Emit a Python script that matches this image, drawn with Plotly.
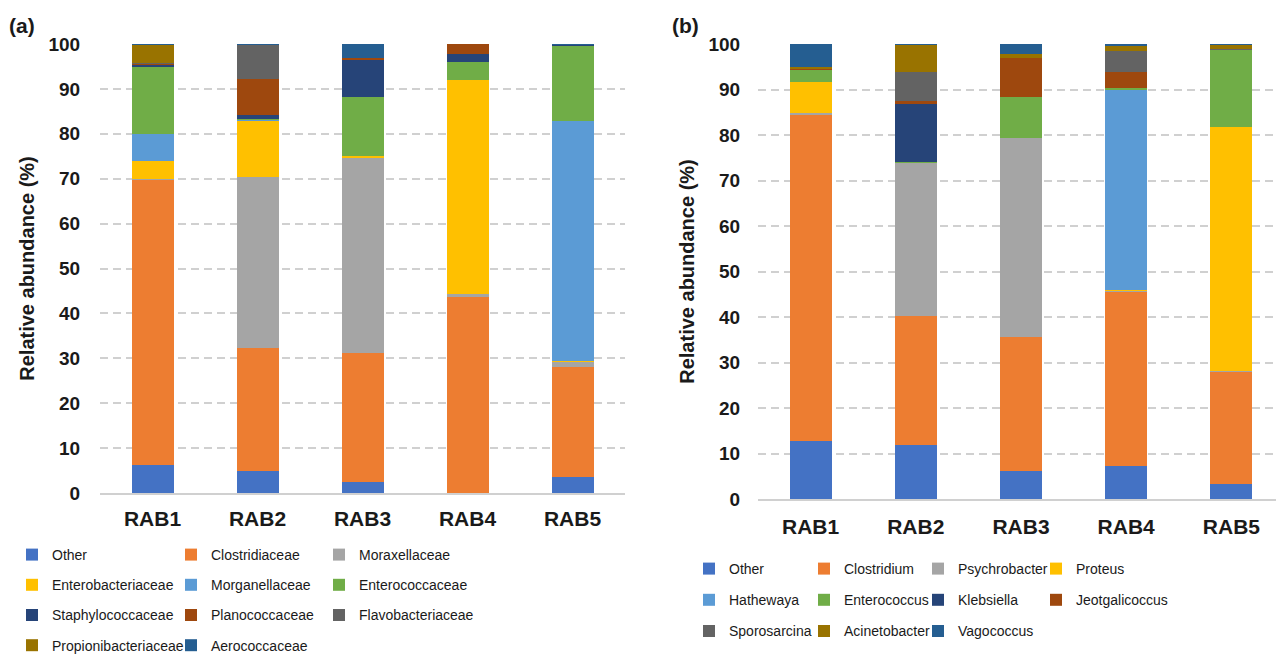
import plotly.graph_objects as go

samples = ["RAB1", "RAB2", "RAB3", "RAB4", "RAB5"]

# Panel (a): families (relative abundance, %)
families = ["Other", "Clostridiaceae", "Moraxellaceae", "Enterobacteriaceae",
            "Morganellaceae", "Enterococcaceae", "Staphylococcaceae",
            "Planococcaceae", "Flavobacteriaceae", "Propionibacteriaceae",
            "Aerococcaceae"]
fam_other = [6.3, 5.0, 2.4, 0.0, 3.5]
fam_clostridiaceae = [63.6, 27.2, 28.8, 43.7, 24.6]
fam_moraxellaceae = [0.1, 38.1, 43.5, 0.6, 1.1]
fam_enterobacteriaceae = [3.9, 12.6, 0.3, 47.7, 0.3]
fam_morganellaceae = [6.0, 0.2, 0.0, 0.0, 53.4]
fam_enterococcaceae = [14.9, 0.3, 13.1, 3.9, 16.7]
fam_staphylococcaceae = [0.7, 0.7, 8.4, 1.9, 0.3]
fam_planococcaceae = [0.1, 8.1, 0.4, 2.2, 0.0]
fam_flavobacteriaceae = [0.1, 7.6, 0.0, 0.0, 0.0]
fam_propionibacteriaceae = [4.1, 0.1, 0.0, 0.0, 0.0]
fam_aerococcaceae = [0.2, 0.1, 3.1, 0.0, 0.1]
fam_values = [fam_other, fam_clostridiaceae, fam_moraxellaceae,
              fam_enterobacteriaceae, fam_morganellaceae, fam_enterococcaceae,
              fam_staphylococcaceae, fam_planococcaceae, fam_flavobacteriaceae,
              fam_propionibacteriaceae, fam_aerococcaceae]

# Panel (b): genera (relative abundance, %)
genera = ["Other", "Clostridium", "Psychrobacter", "Proteus", "Hathewaya",
          "Enterococcus", "Klebsiella", "Jeotgalicoccus", "Sporosarcina",
          "Acinetobacter", "Vagococcus"]
gen_other = [12.7, 11.9, 6.1, 7.3, 3.4]
gen_clostridium = [71.9, 28.4, 29.5, 38.4, 24.7]
gen_psychrobacter = [0.3, 33.6, 43.8, 0.1, 0.1]
gen_proteus = [6.7, 0.0, 0.0, 0.2, 53.6]
gen_hathewaya = [0.0, 0.0, 0.0, 44.0, 0.0]
gen_enterococcus = [2.8, 0.2, 8.9, 0.4, 17.0]
gen_klebsiella = [0.0, 12.7, 0.0, 0.0, 0.0]
gen_jeotgalicoccus = [0.3, 0.7, 8.7, 3.5, 0.0]
gen_sporosarcina = [0.0, 6.3, 0.0, 4.5, 0.2]
gen_acinetobacter = [0.2, 6.1, 0.8, 1.2, 0.8]
gen_vagococcus = [5.1, 0.1, 2.2, 0.4, 0.2]
gen_values = [gen_other, gen_clostridium, gen_psychrobacter, gen_proteus,
              gen_hathewaya, gen_enterococcus, gen_klebsiella,
              gen_jeotgalicoccus, gen_sporosarcina, gen_acinetobacter,
              gen_vagococcus]

palette = ["#4472C4", "#ED7D31", "#A5A5A5", "#FFC000", "#5B9BD5", "#70AD47",
           "#264478", "#9E480E", "#636363", "#997300", "#255E91"]

# page has an 8px body margin: figure is sized so it fills the window
OFF = 8
W, H = 1284 - OFF, 658 - OFF
FONT = "Liberation Sans, Arial, sans-serif"
TXT = "#1a1a1a"

# legend columns (Excel-like grid, row-major order)
ncol_a, ncol_b = 3, 4
leg_names_a = ["legend", "legend2", "legend3"]
leg_names_b = ["legend4", "legend5", "legend6", "legend7"]

fig = go.Figure()
for i, (name, vals, col) in enumerate(zip(families, fam_values, palette)):
    fig.add_trace(go.Bar(x=samples, y=vals, name=name, marker_color=col,
                         marker_line_width=0, xaxis="x", yaxis="y",
                         legend=leg_names_a[i % ncol_a],
                         legendgroup="a" + name))
for i, (name, vals, col) in enumerate(zip(genera, gen_values, palette)):
    fig.add_trace(go.Bar(x=samples, y=vals, name=name, marker_color=col,
                         marker_line_width=0, xaxis="x2", yaxis="y2",
                         legend=leg_names_b[i % ncol_b],
                         legendgroup="b" + name))


def py(ypix):
    return 1 - (ypix - OFF) / H


def px(xpix):
    return (xpix - OFF) / W


def yaxis_style(ticklen):
    return dict(
        range=[0, 100], dtick=10, showgrid=True, gridcolor="#D0D0D0",
        griddash="8px,5px", gridwidth=1.6, zeroline=False, showline=False,
        ticks="outside", ticklen=ticklen, tickcolor="rgba(0,0,0,0)",
        tickfont=dict(family=FONT, size=19, color=TXT, weight="bold"),
        title=dict(text="<b>Relative abundance (%)</b>", standoff=8,
                   font=dict(family=FONT, size=20, color=TXT)),
    )


def xaxis_style(ticklen):
    return dict(
        showline=True, linecolor="#D0D0D0", linewidth=1.5, showgrid=False,
        ticks="outside", ticklen=ticklen, tickcolor="rgba(0,0,0,0)",
        tickfont=dict(family=FONT, size=21, color=TXT, weight="bold"),
    )


fig.update_layout(
    width=W, height=H, barmode="stack", bargap=0.6,
    paper_bgcolor="white", plot_bgcolor="white",
    margin=dict(l=0, r=0, t=0, b=0, autoexpand=False),
    font=dict(family=FONT, color=TXT),
    xaxis=dict(domain=[px(100), px(625)], anchor="y", **xaxis_style(6)),
    yaxis=dict(domain=[py(493), py(44)], anchor="x", **yaxis_style(15)),
    xaxis2=dict(domain=[px(758), px(1284)], anchor="y2", **xaxis_style(8)),
    yaxis2=dict(domain=[py(499), py(44)], anchor="x2", **yaxis_style(13)),
    showlegend=True,
)

leg_font = dict(family=FONT, size=14, color=TXT)
text_x_a = [52, 211, 359]
text_x_b = [729, 844, 958, 1076]
for nm, tx in zip(leg_names_a, text_x_a):
    fig.update_layout({nm: dict(orientation="v", x=px(tx - 40), y=py(539),
                                xanchor="left", yanchor="top",
                                traceorder="grouped", font=leg_font,
                                tracegroupgap=9,
                                bgcolor="rgba(0,0,0,0)")})
for nm, tx in zip(leg_names_b, text_x_b):
    fig.update_layout({nm: dict(orientation="v", x=px(tx - 40), y=py(553),
                                xanchor="left", yanchor="top",
                                traceorder="grouped", font=leg_font,
                                tracegroupgap=10,
                                bgcolor="rgba(0,0,0,0)")})

fig.add_annotation(text="<b>(a)</b>", x=px(7), y=py(25), xref="paper",
                   yref="paper", xanchor="left", yanchor="middle",
                   showarrow=False, font=dict(family=FONT, size=21, color=TXT))
fig.add_annotation(text="<b>(b)</b>", x=px(670), y=py(25), xref="paper",
                   yref="paper", xanchor="left", yanchor="middle",
                   showarrow=False, font=dict(family=FONT, size=21, color=TXT))

fig.write_html("out.html")
